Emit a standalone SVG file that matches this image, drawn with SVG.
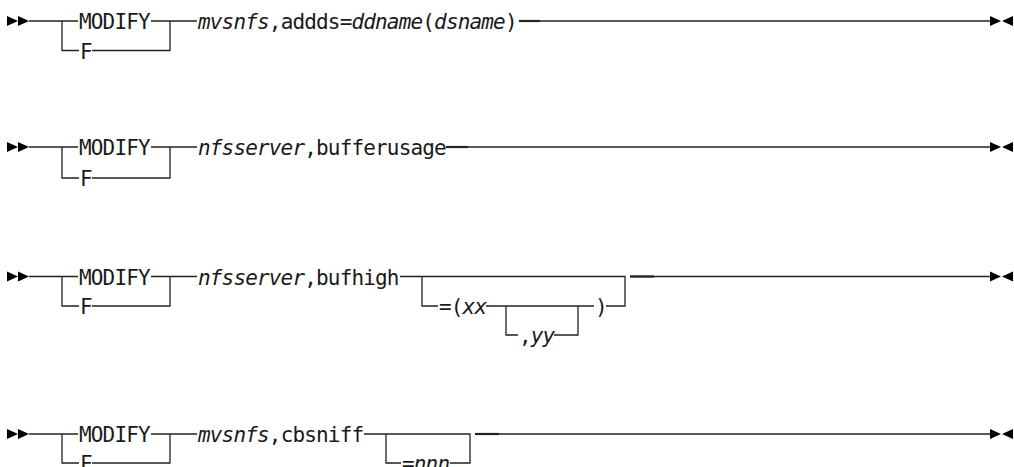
<svg xmlns="http://www.w3.org/2000/svg" width="1014" height="467" viewBox="0 0 1014 467">
<style>
text{font-family:"DejaVu Sans Mono","Liberation Mono",monospace;font-size:21px;letter-spacing:-0.84px;fill:#1a1a1a}
.i{font-style:italic}
.ln{fill:none;stroke:#222;stroke-width:1.3}
.bd{fill:none;stroke:#222;stroke-width:2.2}
.ar{fill:#000}
</style>
<rect width="1014" height="467" fill="#fff"/>
<defs>
<g id="start"><polygon points="7,-5 18,0 7,5"/><polygon points="18,-5 29,0 18,5"/></g>
<g id="end"><polygon points="990,-5 1001,0 990,5"/><polygon points="1013,-5 1002,0 1013,5"/></g>
</defs>
<g id="connectors">
<!-- row 1 -->
<path class="ln" d="M29,21 H78 M62,21 V50.5 H79 M92,50.5 H170 V21 M151,21 H197 M519,21 H990"/>
<path class="bd" d="M519,21 H540"/>
<!-- row 2 -->
<path class="ln" d="M29,147 H78 M62,147 V178 H79 M92,178 H170 V147 M151,147 H197 M446,147 H990"/>
<path class="bd" d="M446,147 H468"/>
<!-- row 3 -->
<path class="ln" d="M29,276.5 H78 M62,276.5 V306 H79 M92,306 H170 V276.5 M151,276.5 H197 M400,276.5 H625 V306 H606 M422,276.5 V306 H438 M486,306 H594 M506,306 V335 H518 M554,335 H578 V306 M630,276.5 H990"/>
<path class="bd" d="M630,276.5 H654"/>
<!-- row 4 -->
<path class="ln" d="M29,434 H78 M62,434 V463 H79 M92,463 H170 V434 M151,434 H197 M364,434 H470 V463 H450 M386,434 V463 H401 M475,434 H990"/>
<path class="bd" d="M475,434 H499"/>
</g>
<g id="markers" class="ar">
<use href="#start" y="21"/><use href="#end" y="21"/>
<use href="#start" y="147"/><use href="#end" y="147"/>
<use href="#start" y="276.5"/><use href="#end" y="276.5"/>
<use href="#start" y="434"/><use href="#end" y="434"/>
</g>
<g id="row1">
<text x="79" y="29">MODIFY</text>
<text x="80" y="58.5">F</text>
<text x="198" y="29"><tspan class="i">mvsnfs</tspan>,addds=<tspan class="i">ddname</tspan>(<tspan class="i">dsname</tspan>)</text>
</g>
<g id="row2">
<text x="79" y="155">MODIFY</text>
<text x="80" y="186">F</text>
<text x="198" y="155"><tspan class="i">nfsserver</tspan>,bufferusage</text>
</g>
<g id="row3">
<text x="79" y="284.5">MODIFY</text>
<text x="80" y="314">F</text>
<text x="198" y="284.5"><tspan class="i">nfsserver</tspan>,bufhigh</text>
<text x="439" y="314">=(<tspan class="i">xx</tspan></text>
<text x="595" y="314">)</text>
<text x="519" y="343">,<tspan class="i">yy</tspan></text>
</g>
<g id="row4">
<text x="79" y="442">MODIFY</text>
<text x="80" y="471">F</text>
<text x="198" y="442"><tspan class="i">mvsnfs</tspan>,cbsniff</text>
<text x="402" y="471">=<tspan class="i">nnn</tspan></text>
</g>
</svg>
